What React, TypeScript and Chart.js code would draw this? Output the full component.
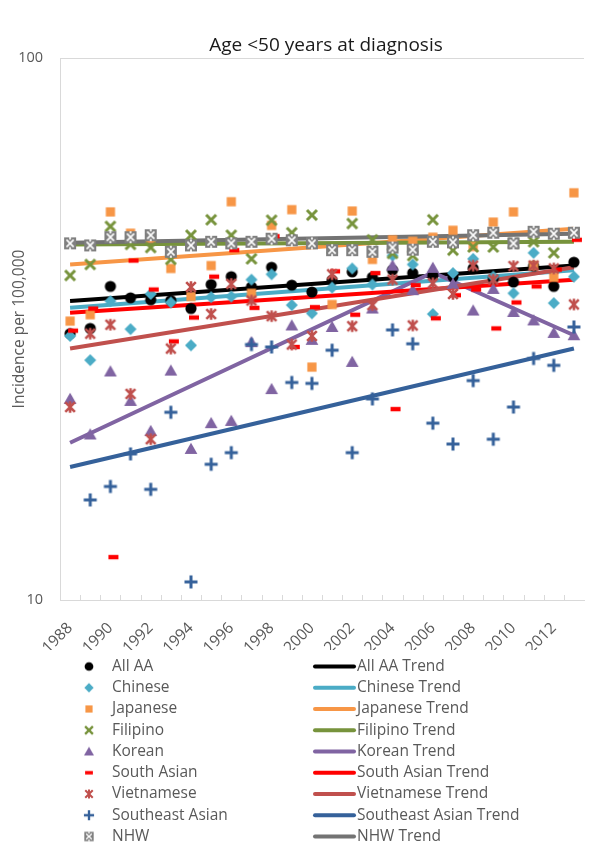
import React, { useEffect, useRef } from 'react';
import { Chart, registerables } from 'chart.js';

Chart.register(...registerables);

// ---------- data ----------
const years = ['1988', '1989', '1990', '1991', '1992', '1993', '1994', '1995', '1996', '1997', '1998', '1999', '2000',
  '2001', '2002', '2003', '2004', '2005', '2006', '2007', '2008', '2009', '2010', '2011', '2012', '2013'];
const yTickValues = [10, 100];

const allAA = [31.0, 31.7, 37.9, 36.1, 35.8, 35.7, 34.5, 38.2, 39.5, 37.8, 41.1, 38.1, 37.0, 38.9, 40.3, 39.4, 40.6, 40.1, 39.7, 39.5, 40.9, 39.2, 38.6, 41.3, 37.9, 42.0];
const chinese = [30.7, 27.7, 35.6, 31.6, 36.7, 35.4, 29.5, 36.2, 36.3, 39.0, 39.9, 35.0, 33.8, 37.7, 40.9, 38.2, 43.2, 41.6, 33.7, 40.1, 42.6, 39.5, 36.8, 43.7, 35.3, 39.5];
const japanese = [32.7, 33.6, 52.0, 47.5, 46.5, 40.9, 36.3, 41.4, 54.3, 36.8, 49.1, 52.5, 26.9, 35.1, 52.2, 42.5, 46.2, 45.9, 46.7, 48.1, 44.9, 49.8, 52.0, 41.4, 39.4, 56.4];
const filipino = [39.7, 41.6, 48.9, 45.3, 44.7, 42.5, 47.1, 50.3, 47.1, 42.6, 50.2, 47.6, 51.3, 44.5, 49.5, 46.2, 43.6, 43.2, 50.3, 44.2, 44.8, 44.8, 45.5, 45.8, 43.7, 47.5];
const korean = [23.5, 20.2, 26.4, 23.3, 20.5, 26.5, 19.0, 21.2, 21.4, 29.9, 24.5, 32.1, 30.2, 31.9, 27.5, 34.5, 41.4, 37.3, 41.0, 38.3, 34.2, 37.5, 34.0, 32.8, 31.1, 30.8];
const southAsian = [31.4, 34.5, 12.0, 42.3, 37.4, 30.0, 33.2, 39.5, 44.2, 34.6, 46.9, 29.3, 34.7, 40.4, 33.6, 40.1, 22.5, 38.1, 33.1, 36.5, 37.4, 31.7, 35.4, 37.9, 40.7, 46.2];
const vietnamese = [22.7, 31.0, 32.2, 24.0, 19.8, 29.1, 37.8, 33.7, 38.3, 35.7, 33.4, 29.6, 30.7, 39.9, 32.0, 35.0, 39.0, 32.1, 38.4, 36.7, 41.4, 39.0, 41.3, 41.4, 40.9, 35.1];
const seAsian = [null, 15.3, 16.2, 18.6, 16.0, 22.2, 10.8, 17.8, 18.7, 29.6, 29.3, 25.2, 25.1, 28.9, 18.7, 23.5, 31.5, 29.7, 21.2, 19.4, 25.4, 19.8, 22.7, 27.9, 27.1, 31.9];
const nhw = [45.5, 45.1, 46.7, 46.7, 47.1, 43.9, 45.1, 45.8, 45.5, 45.8, 46.4, 46.1, 45.5, 44.2, 44.2, 43.9, 44.7, 44.3, 45.8, 45.7, 47.1, 47.6, 45.5, 47.8, 47.4, 47.6];

// trend lines: values at the listed years (straight on the log axis between them)
const trendYears = ['1988', '2013'];
const koreanTrendYears = ['1988', '2006', '2013'];
const allAATrend = [35.6, 41.4];
const chineseTrend = [34.6, 40.6];
const japaneseTrend = [41.6, 48.4];
const filipinoTrend = [45.3, 45.8];
const koreanTrend = [19.5, 40.2, 30.8];
const southAsianTrend = [33.9, 39.0];
const vietnameseTrend = [29.1, 41.1];
const seAsianTrend = [17.6, 29.1];
const nhwTrend = [45.6, 47.4];

const seriesNames = ['All AA', 'Chinese', 'Japanese', 'Filipino', 'Korean', 'South Asian', 'Vietnamese', 'Southeast Asian', 'NHW'];

// ---------- styles ----------
const FONT = "'Open Sans', 'DejaVu Sans', sans-serif";
const GRAY_TEXT = '#595959';
const AXIS_GRAY = '#d9d9d9';

const colors = ['#000000', '#4BACC6', '#F79646', '#77933C', '#8064A2', '#FF0000', '#C0504D', '#35619A', '#7F7F7F'];
const trendColors = ['#000000', '#4BACC6', '#F79646', '#77933C', '#8064A2', '#FF0000', '#C0504D', '#35619A', '#737373'];
const markerKinds = ['circle', 'diamond', 'square', 'x', 'triangle', 'dash', 'star', 'plus', 'nhw'];

function makeMarker(kind: string, color: string, scale: number, dashShift: number): HTMLCanvasElement {
  const S = 20;
  const c = document.createElement('canvas');
  c.width = S;
  c.height = S;
  const g = c.getContext('2d') as CanvasRenderingContext2D;
  g.translate(S / 2, S / 2);
  g.scale(scale, scale);
  g.fillStyle = color;
  g.strokeStyle = color;
  g.lineCap = 'butt';
  switch (kind) {
    case 'circle':
      g.beginPath();
      g.arc(0, 0, 5.6, 0, Math.PI * 2);
      g.fill();
      break;
    case 'diamond':
      g.beginPath();
      g.moveTo(0, -6);
      g.lineTo(6, 0);
      g.lineTo(0, 6);
      g.lineTo(-6, 0);
      g.closePath();
      g.fill();
      break;
    case 'square':
      g.fillRect(-4.6, -4.6, 9.2, 9.2);
      break;
    case 'x':
      g.lineWidth = 3;
      g.beginPath();
      g.moveTo(-5, -5);
      g.lineTo(5, 5);
      g.moveTo(5, -5);
      g.lineTo(-5, 5);
      g.stroke();
      break;
    case 'triangle':
      g.beginPath();
      g.moveTo(0, -6.2);
      g.lineTo(6.4, 5);
      g.lineTo(-6.4, 5);
      g.closePath();
      g.fill();
      break;
    case 'dash':
      g.fillRect(-5 + dashShift, -2.2, 10, 4.4);
      break;
    case 'star':
      g.lineWidth = 2.6;
      g.beginPath();
      g.moveTo(-4.8, -4.8);
      g.lineTo(4.8, 4.8);
      g.moveTo(4.8, -4.8);
      g.lineTo(-4.8, 4.8);
      g.moveTo(0, -5.8);
      g.lineTo(0, 5.8);
      g.stroke();
      break;
    case 'plus':
      g.lineWidth = 3;
      g.beginPath();
      g.moveTo(-6.5, 0);
      g.lineTo(6.5, 0);
      g.moveTo(0, -6.5);
      g.lineTo(0, 6.5);
      g.stroke();
      break;
    case 'nhw':
      g.fillRect(-6, -6, 12, 12);
      g.strokeStyle = '#ffffff';
      g.lineWidth = 1.7;
      g.beginPath();
      g.moveTo(-3.6, -3.6);
      g.lineTo(3.6, 3.6);
      g.moveTo(3.6, -3.6);
      g.lineTo(-3.6, 3.6);
      g.moveTo(0, -6);
      g.lineTo(0, -3.8);
      g.moveTo(0, 6);
      g.lineTo(0, 3.8);
      g.stroke();
      break;
  }
  return c;
}

export default function App() {
  const ref = useRef<HTMLCanvasElement | null>(null);

  useEffect(() => {
    const canvas = ref.current;
    if (!canvas) return;

    const pointSeries = [allAA, chinese, japanese, filipino, korean, southAsian, vietnamese, seAsian, nhw];
    const trendSeries = [allAATrend, chineseTrend, japaneseTrend, filipinoTrend, koreanTrend, southAsianTrend, vietnameseTrend, seAsianTrend, nhwTrend];

    const plotMarkers = markerKinds.map((k, i) => makeMarker(k, colors[i], 1, 3));
    const legendMarkers = markerKinds.map((k, i) => makeMarker(k, colors[i], 0.78, 0));

    const datasets: any[] = [];
    pointSeries.forEach((arr, i) => {
      datasets.push({
        label: seriesNames[i],
        data: arr,
        showLine: false,
        pointStyle: plotMarkers[i],
        pointRadius: 6,
        borderColor: colors[i],
        backgroundColor: colors[i],
        order: 8 - i,
      });
    });
    trendSeries.forEach((arr, i) => {
      const yrs = i === 4 ? koreanTrendYears : trendYears;
      datasets.push({
        label: seriesNames[i] + ' Trend',
        data: arr.map((v, j) => ({ x: yrs[j], y: v })),
        borderColor: trendColors[i],
        backgroundColor: trendColors[i],
        borderWidth: 4,
        pointRadius: 0,
        tension: 0,
        borderCapStyle: 'butt',
        order: 30 - i,
      });
    });

    const decor = {
      id: 'decor',
      beforeDatasetsDraw(chart: any) {
        const { ctx, chartArea } = chart;
        const n = years.length;
        const w = (chartArea.right - chartArea.left) / n;
        ctx.save();
        ctx.strokeStyle = AXIS_GRAY;
        ctx.lineWidth = 1;
        for (let i = 1; i < n; i++) {
          const x = Math.round(chartArea.left + i * w) + 0.5;
          ctx.beginPath();
          ctx.moveTo(x, chartArea.bottom);
          ctx.lineTo(x, chartArea.bottom - 5);
          ctx.stroke();
        }
        ctx.restore();
      },
      afterDraw(chart: any) {
        const { ctx } = chart;
        ctx.save();
        // title
        ctx.fillStyle = '#1a1a1a';
        ctx.font = `19px ${FONT}`;
        ctx.textAlign = 'center';
        ctx.textBaseline = 'middle';
        ctx.fillText('Age <50 years at diagnosis', 326, 46);
        // legend
        ctx.font = `15.5px ${FONT}`;
        ctx.textAlign = 'left';
        for (let i = 0; i < seriesNames.length; i++) {
          const y = 666.5 + i * 21.25;
          const m = legendMarkers[i];
          ctx.drawImage(m, 89 - m.width / 2, y - m.height / 2);
          ctx.fillStyle = GRAY_TEXT;
          ctx.fillText(seriesNames[i], 112, y);
          ctx.strokeStyle = trendColors[i];
          ctx.lineWidth = 4;
          ctx.lineCap = 'round';
          ctx.beginPath();
          ctx.moveTo(315, y);
          ctx.lineTo(354, y);
          ctx.stroke();
          ctx.fillText(seriesNames[i] + ' Trend', 357, y);
        }
        ctx.restore();
      },
    };

    const chart = new Chart(canvas, {
      type: 'line',
      data: { labels: years, datasets },
      options: {
        animation: false,
        responsive: false,
        maintainAspectRatio: false,
        layout: { padding: { top: 58, bottom: 206, left: 0, right: 4 } },
        plugins: {
          legend: { display: false },
          title: { display: false },
          tooltip: { enabled: false },
        },
        scales: {
          x: {
            type: 'category',
            offset: true,
            grid: { display: false },
            border: { display: true, color: AXIS_GRAY, width: 1 },
            ticks: {
              autoSkip: false,
              maxRotation: 45,
              minRotation: 45,
              padding: 11,
              color: GRAY_TEXT,
              font: { family: FONT, size: 15.5 },
              callback: (_v: any, i: number) => (i % 2 === 0 ? years[i] : ''),
            },
            afterFit: (s: any) => {
              s.height = 50;
              s.paddingRight = 0;
              s.paddingLeft = 0;
            },
          },
          y: {
            type: 'logarithmic',
            min: 10,
            max: 100,
            afterBuildTicks: (s: any) => {
              s.ticks = yTickValues.map((v) => ({ value: v }));
            },
            grid: { color: AXIS_GRAY, drawTicks: false },
            border: { display: true, color: AXIS_GRAY },
            ticks: {
              padding: 17,
              color: GRAY_TEXT,
              font: { family: FONT, size: 14.5 },
              callback: (v: any) => String(v),
            },
            title: {
              display: true,
              text: 'Incidence per 100,000',
              color: GRAY_TEXT,
              font: { family: FONT, size: 15.5 },
              padding: { top: 10, bottom: 0 },
            },
            afterFit: (s: any) => {
              s.width = 60;
            },
          },
        },
      } as any,
      plugins: [decor],
    });

    return () => {
      chart.destroy();
    };
  }, []);

  return (
    <div style={{ position: 'absolute', left: 0, top: 0, width: 591, height: 856, background: '#ffffff' }}>
      <canvas ref={ref} width={591} height={856} style={{ display: 'block', width: 591, height: 856 }} />
    </div>
  );
}
